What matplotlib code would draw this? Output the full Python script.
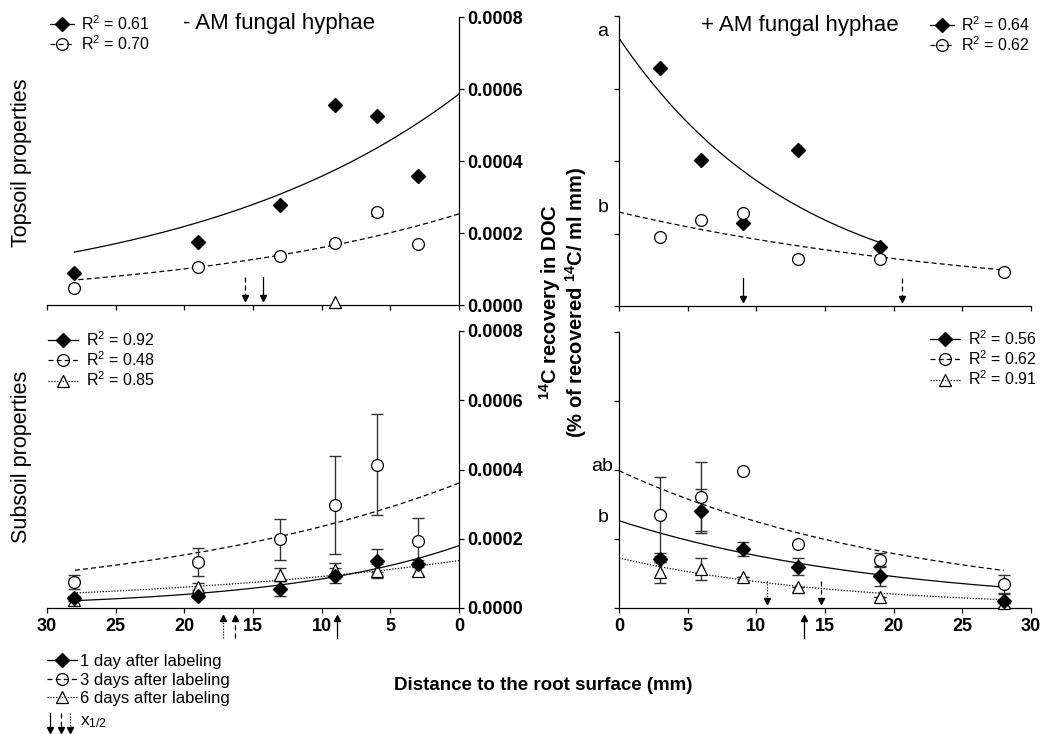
import numpy as np
import matplotlib
matplotlib.use('Agg')
import matplotlib.pyplot as plt
from matplotlib.lines import Line2D

plt.rcParams['font.family'] = ['Liberation Sans', 'DejaVu Sans']
plt.rcParams['mathtext.fontset'] = 'custom'
plt.rcParams['mathtext.rm'] = 'Liberation Sans'
plt.rcParams['mathtext.it'] = 'Liberation Sans:italic'
plt.rcParams['mathtext.bf'] = 'Liberation Sans:bold'

W, H = 1044, 734

# distances from the root surface (mm)
dist = [3, 6, 9, 13, 19, 28]
dist_plus_top_d1 = [3, 6, 9, 13, 19]

# topsoil, - AM fungal hyphae
top_minus_d1 = [0.000358, 0.000525, 0.000556, 0.000278, 0.000175, 0.000089]
top_minus_d3 = [0.000169, 0.000258, 0.000172, 0.000136, 0.000106, 0.000047]
top_minus_d3_err = [0, 0.000010, 0, 0, 0, 0]
top_minus_d6_x = [9]
top_minus_d6 = [0.000008]

# topsoil, + AM fungal hyphae
top_plus_d1 = [0.000657, 0.000403, 0.000230, 0.000430, 0.000164]
top_plus_d3 = [0.000191, 0.000237, 0.000256, 0.000130, 0.000130, 0.000095]

# subsoil, - AM fungal hyphae
sub_minus_d1 = [0.000128, 0.000137, 0.000093, 0.000056, 0.000034, 0.000029]
sub_minus_d1_err = [0.000010, 0.000032, 0.000022, 0.000021, 0.000005, 0.000006]
sub_minus_d3 = [0.000194, 0.000414, 0.000297, 0.000198, 0.000133, 0.000075]
sub_minus_d3_err = [0.000067, 0.000146, 0.000141, 0.000058, 0.000040, 0.000020]
sub_minus_d6 = [0.000106, 0.000106, 0.000109, 0.000096, 0.000061, 0.000024]
sub_minus_d6_err = [0.000015, 0.000020, 0.000020, 0.000019, 0.000010, 0.000005]

# subsoil, + AM fungal hyphae
sub_plus_d1 = [0.000142, 0.000282, 0.000171, 0.000120, 0.000092, 0.000021]
sub_plus_d1_err = [0.000010, 0.000064, 0.000019, 0.000024, 0.000027, 0.000019]
sub_plus_d3 = [0.000270, 0.000323, 0.000397, 0.000186, 0.000140, 0.000070]
sub_plus_d3_err = [0.000111, 0.000099, 0, 0, 0.000019, 0.000026]
sub_plus_d6 = [0.000103, 0.000113, 0.000089, 0.000060, 0.000031, 0.000015]
sub_plus_d6_err = [0.000031, 0.000032, 0, 0, 0, 0]

# exponential fits y = a * exp(-k x): (a, k, x_end)
fit_top_minus = {'d1': (0.000586, 0.0494, 28), 'd3': (0.000253, 0.0462, 28)}
fit_top_plus = {'d1': (0.000739, 0.0758, 19), 'd3': (0.000259, 0.0342, 28)}
fit_sub_minus = {'d1': (0.000180, 0.0764, 28), 'd3': (0.000361, 0.0428, 28),
                 'd6': (0.000137, 0.0411, 28)}
fit_sub_plus = {'d1': (0.000253, 0.0510, 28), 'd3': (0.000398, 0.0463, 28),
                'd6': (0.000145, 0.0640, 28)}

# x1/2 arrows
half_top_minus = {'d1': 14.3, 'd3': 15.6}
half_top_plus = {'d1': 9.0, 'd3': 20.6}
half_sub_minus = {'d1': 8.9, 'd3': 16.3, 'd6': 17.2}
half_sub_plus = {'d1': 13.5, 'd3': 14.7, 'd6': 10.8}

r2_top_minus = ['0.61', '0.70']
r2_top_plus = ['0.64', '0.62']
r2_sub_minus = ['0.92', '0.48', '0.85']
r2_sub_plus = ['0.56', '0.62', '0.91']

yticks = [0, 0.0002, 0.0004, 0.0006, 0.0008]
xticks = [0, 5, 10, 15, 20, 25, 30]

LS = {'d1': '-', 'd3': (0, (4, 2.5)), 'd6': (0, (1, 1.3))}
MK = {'d1': dict(marker='D', ms=7, mfc='k', mec='k'),
      'd3': dict(marker='o', ms=8.5, mfc='white', mec='k', mew=0.9),
      'd6': dict(marker='^', ms=9, mfc='white', mec='k', mew=0.9)}


def fx(px):
    return px / W


def fy(py):
    return 1 - py / H


fig = plt.figure(figsize=(W / 100, H / 100), dpi=100)

left_l, right_l = 47, 459
left_r, right_r = 619, 1031
axTL = fig.add_axes([fx(left_l), fy(305), (right_l - left_l) / W, (305 - 17) / H])
axTR = fig.add_axes([fx(left_r), fy(306), (right_r - left_r) / W, (306 - 16) / H])
axBL = fig.add_axes([fx(left_l), fy(608), (right_l - left_l) / W, (608 - 331) / H])
axBR = fig.add_axes([fx(left_r), fy(608), (right_r - left_r) / W, (608 - 332) / H])

for ax in (axTL, axTR, axBL, axBR):
    ax.set_ylim(0, 0.0008)
    ax.set_yticks(yticks)
    ax.set_xticks(xticks)
    ax.spines['top'].set_visible(False)
    ax.tick_params(direction='out', length=3.5, width=0.9, labelsize=13, pad=2.5)
    for s in ax.spines.values():
        s.set_linewidth(0.9)

for ax in (axTL, axBL):
    ax.set_xlim(30, 0)
    ax.spines['left'].set_visible(False)
    ax.yaxis.tick_right()
    ax.set_yticklabels(['%.4f' % v for v in yticks], fontweight='bold')
for ax in (axTR, axBR):
    ax.set_xlim(0, 30)
    ax.spines['right'].set_visible(False)
    ax.set_yticklabels([])
for ax in (axTL, axTR):
    ax.set_xticklabels([])
for ax in (axBL, axBR):
    ax.set_xticklabels([str(t) for t in xticks], fontweight='bold')
    ax.tick_params(axis='x', pad=4)


def curve(ax, fit, key):
    a, k, xe = fit[key]
    xs = np.linspace(0, xe, 200)
    ax.plot(xs, a * np.exp(-k * xs), color='k', lw=0.9, ls=LS[key], zorder=2)


def points(ax, x, y, key, err=None):
    if err is not None:
        ax.errorbar(x, y, yerr=err, fmt='none', ecolor='#333333', elinewidth=1,
                    capsize=4.5, capthick=1, zorder=3)
    ax.plot(x, y, ls='none', zorder=4, clip_on=False, **MK[key])


def half_arrow(ax, x, key, up):
    if up:
        y0, y1, m = -0.000088, -0.000030, '^'
    else:
        y0, y1, m = 0.000078, 0.000020, 'v'
    ax.plot([x, x], [y0, y1], color='k', lw=0.9, ls=LS[key], clip_on=False)
    ax.plot([x], [y1], marker=m, ms=4, color='k', clip_on=False)


def handles(keys):
    hs = []
    for key in keys:
        mk = dict(MK[key])
        if key != 'd1':
            mk['mfc'] = 'none'
        hs.append(Line2D([], [], color='k', lw=0.9, ls=LS[key], **mk))
    return hs


# top left
curve(axTL, fit_top_minus, 'd1')
curve(axTL, fit_top_minus, 'd3')
points(axTL, dist, top_minus_d1, 'd1')
points(axTL, dist, top_minus_d3, 'd3', top_minus_d3_err)
points(axTL, top_minus_d6_x, top_minus_d6, 'd6')
for key, xv in half_top_minus.items():
    half_arrow(axTL, xv, key, False)

# top right
curve(axTR, fit_top_plus, 'd1')
curve(axTR, fit_top_plus, 'd3')
points(axTR, dist_plus_top_d1, top_plus_d1, 'd1')
points(axTR, dist, top_plus_d3, 'd3')
for key, xv in half_top_plus.items():
    half_arrow(axTR, xv, key, False)

# bottom left
for key in ('d1', 'd3', 'd6'):
    curve(axBL, fit_sub_minus, key)
points(axBL, dist, sub_minus_d3, 'd3', sub_minus_d3_err)
points(axBL, dist, sub_minus_d6, 'd6', sub_minus_d6_err)
points(axBL, dist, sub_minus_d1, 'd1', sub_minus_d1_err)
for key, xv in half_sub_minus.items():
    half_arrow(axBL, xv, key, True)

# bottom right
for key in ('d1', 'd3', 'd6'):
    curve(axBR, fit_sub_plus, key)
points(axBR, dist, sub_plus_d3, 'd3', sub_plus_d3_err)
points(axBR, dist, sub_plus_d6, 'd6', sub_plus_d6_err)
points(axBR, dist, sub_plus_d1, 'd1', sub_plus_d1_err)
half_arrow(axBR, half_sub_plus['d1'], 'd1', True)
half_arrow(axBR, half_sub_plus['d3'], 'd3', False)
half_arrow(axBR, half_sub_plus['d6'], 'd6', False)

# panel legends
leg_kw = dict(frameon=False, borderpad=0, borderaxespad=0, handletextpad=0.45,
              labelspacing=0.1, fontsize=11.5, bbox_transform=fig.transFigure,
              loc='upper left')
axTL.legend(handles(['d1', 'd3']), ['R$^2$ = %s' % r for r in r2_top_minus],
            bbox_to_anchor=(fx(50), fy(14)), handlelength=1.5, **leg_kw)
axTR.legend(handles(['d1', 'd3']), ['R$^2$ = %s' % r for r in r2_top_plus],
            bbox_to_anchor=(fx(930), fy(15)), handlelength=1.5, **leg_kw)
axBL.legend(handles(['d1', 'd3', 'd6']), ['R$^2$ = %s' % r for r in r2_sub_minus],
            bbox_to_anchor=(fx(48), fy(330)), handlelength=1.9, **leg_kw)
axBR.legend(handles(['d1', 'd3', 'd6']), ['R$^2$ = %s' % r for r in r2_sub_plus],
            bbox_to_anchor=(fx(930), fy(329)), handlelength=1.9, **leg_kw)

# bottom legend
fig.legend(handles(['d1', 'd3', 'd6']),
           ['1 day after labeling', '3 days after labeling', '6 days after labeling'],
           loc='upper left', bbox_to_anchor=(fx(47), fy(654)), frameon=False,
           borderpad=0, borderaxespad=0, handlelength=1.8, handletextpad=0.2,
           labelspacing=0.22, fontsize=12)
axL = fig.add_axes([0, 0, 1, 1], facecolor='none')
axL.set_xlim(0, W)
axL.set_ylim(H, 0)
axL.axis('off')
for xa, key in ((50, 'd1'), (61, 'd3'), (70, 'd6')):
    axL.plot([xa, xa], [713, 730], color='k', lw=0.9, ls=LS[key])
    axL.plot([xa], [730], marker='v', ms=4, color='k')
axL.text(80, 722, 'x$_{1/2}$', fontsize=12.5, va='center', ha='left')

# texts
fig.text(fx(183), fy(23), '- AM fungal hyphae', fontsize=16, va='center', ha='left')
fig.text(fx(701), fy(25), '+ AM fungal hyphae', fontsize=16, va='center', ha='left')
fig.text(fx(22), fy(163), 'Topsoil properties', fontsize=15.5, rotation=90,
         va='center', ha='center')
fig.text(fx(22), fy(457), 'Subsoil properties', fontsize=15.5, rotation=90,
         va='center', ha='center')
fig.text(fx(563), fy(302),
         '$^{\\mathbf{14}}$C recovery in DOC\n(% of recovered $^{\\mathbf{14}}$C/ ml mm)',
         fontsize=14.5, fontweight='bold', rotation=90, va='center', ha='center',
         multialignment='center', linespacing=1.05)
fig.text(fx(543), fy(685), 'Distance to the root surface (mm)', fontsize=13.5,
         fontweight='bold', va='center', ha='center')
for txt, xp, yp in (('a', 603, 32), ('b', 603, 208), ('ab', 602, 466), ('b', 603, 517)):
    fig.text(fx(xp), fy(yp), txt, fontsize=14, va='center', ha='center')

fig.savefig('out.png', dpi=100)
